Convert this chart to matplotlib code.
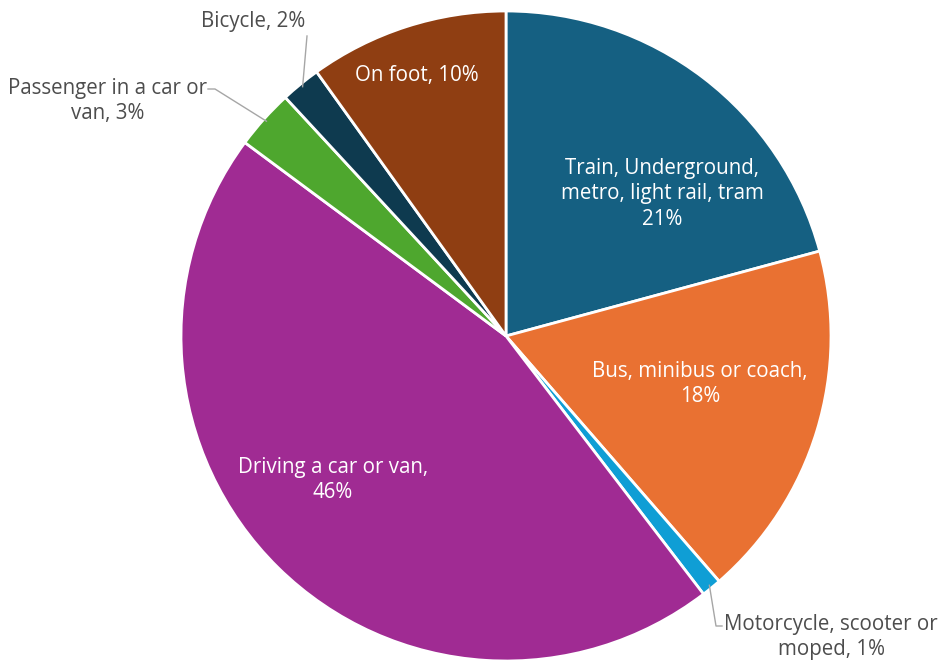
import numpy as np
import matplotlib.pyplot as plt

# Share of trips by main mode of transport
modes = ["Train, Underground,\nmetro, light rail, tram", "Bus, minibus or coach,",
         "Motorcycle, scooter or\nmoped,", "Driving a car or van,", "Passenger in a car or\nvan,",
         "Bicycle,", "On foot,"]
shares = [21, 18, 1, 46, 3, 2, 10]
colors = ["#156082", "#E97132", "#0F9ED5", "#A02B93", "#4EA72E", "#0E3A4F", "#8F3E12"]

W, H = 944, 662
fig = plt.figure(figsize=(W / 100, H / 100), dpi=100)
ax = fig.add_axes([0, 0, 1, 1])

cx, cy, r = 506, H - 336, 325
wedges, _ = ax.pie(shares, colors=colors, startangle=90, counterclock=False,
                   center=(cx, cy), radius=r, frame=True,
                   wedgeprops=dict(edgecolor="white", linewidth=2))
ax.set_xlim(0, W)
ax.set_ylim(0, H)
ax.set_aspect("equal")
ax.axis("off")

plt.rcParams["font.family"] = ["Open Sans", "DejaVu Sans"]
fs = 14.8
ls = 1.3
labels = [
    f"{modes[0]}\n{shares[0]}%",
    f"{modes[1]}\n{shares[1]}%",
    f"{modes[2]} {shares[2]}%",
    f"{modes[3]}\n{shares[3]}%",
    f"{modes[4]} {shares[4]}%",
    f"{modes[5]} {shares[5]}%",
    f"{modes[6]} {shares[6]}%",
]

# label centres (x, y from top) for labels drawn inside their slice
inside = {0: (662, 194), 1: (700, 384), 3: (333, 480), 6: (417, 76)}
for i, pos in inside.items():
    ax.text(pos[0], H - pos[1], labels[i], ha="center", va="center", fontsize=fs,
            color="white", linespacing=ls)

grey = "#4D4D4D"
line = "#A6A6A6"


def edge_point(i, frac=1.0):
    w = wedges[i]
    th = np.deg2rad((w.theta1 + w.theta2) / 2)
    return cx + r * frac * np.cos(th), cy + r * frac * np.sin(th)


# Motorcycle, scooter or moped
px, py = edge_point(2, 0.99)
ax.plot([px, 716, 722], [py, H - 626, H - 626], color=line, lw=1)
ax.text(831, H - 637, labels[2], ha="center", va="center", fontsize=fs, color=grey,
        linespacing=ls)

# Passenger in a car or van
px, py = edge_point(4, 0.99)
ax.plot([px, 215, 208], [py, H - 89, H - 89], color=line, lw=1)
ax.text(108, H - 101, labels[4], ha="center", va="center", fontsize=fs, color=grey,
        linespacing=ls)

# Bicycle
px, py = edge_point(5, 0.99)
ax.plot([px, 307], [py, H - 36], color=line, lw=1)
ax.text(253, H - 22, labels[5], ha="center", va="center", fontsize=fs, color=grey)

fig.savefig("out.png", dpi=100)
